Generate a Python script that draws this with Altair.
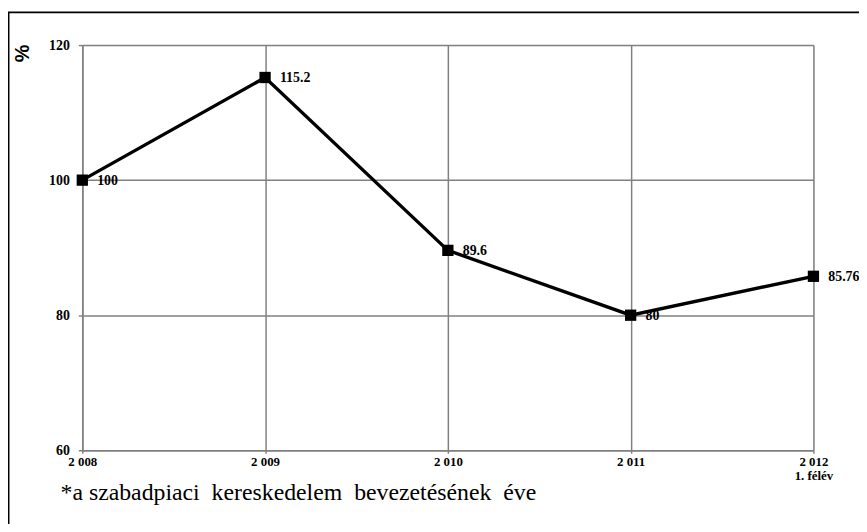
import altair as alt
import pandas as pd

years = ["2 008", "2 009", "2 010", "2 011", "2 012"]
values = [100, 115.2, 89.6, 80, 85.76]
value_labels = ["100", "115.2", "89.6", "80", "85.76"]
y_ticks = [60, 80, 100, 120]
footnote = "*a szabadpiaci\u00a0 kereskedelem\u00a0 bevezetésének\u00a0 éve"
y_title = "%"

df = pd.DataFrame({"year": years, "value": values, "label": value_labels})

serif = "Liberation Serif"

x_enc = alt.X(
    "year:O",
    sort=years,
    scale=alt.Scale(type="point", padding=0),
    axis=alt.Axis(
        title=None,
        labelAngle=0,
        labelFont=serif,
        labelFontWeight="bold",
        labelFontSize=13,
        labelColor="black",
        labelPadding=2,
        labelLineHeight=15,
        labelExpr="datum.value == '2 012' ? ['2 012', '1. félév'] : datum.value",
        tickSize=3,
        tickColor="#808080",
        tickWidth=1.5,
        domainColor="#808080",
        domainWidth=1.5,
        grid=True,
        gridColor="#808080",
        gridWidth=1.5,
    ),
)
y_enc = alt.Y(
    "value:Q",
    scale=alt.Scale(domain=[60, 120], nice=False, zero=False),
    axis=alt.Axis(
        values=y_ticks,
        title=y_title,
        titleFont="Liberation Sans",
        titleFontSize=20,
        titleFontWeight="bold",
        titleColor="black",
        titleAngle=270,
        titleX=-60,
        titleY=8,
        titleAlign="center",
        titleBaseline="middle",
        labelFont=serif,
        labelFontWeight="bold",
        labelFontSize=14,
        labelColor="black",
        labelPadding=9,
        tickSize=4,
        tickColor="#808080",
        tickWidth=1.5,
        domainColor="#808080",
        domainWidth=1.5,
        grid=True,
        gridColor="#808080",
        gridWidth=1.5,
    ),
)

base = alt.Chart(df)
line = base.mark_line(color="black", strokeWidth=3.4).encode(x=x_enc, y=y_enc)
points = base.mark_square(color="black", size=130, opacity=1).encode(x=x_enc, y=y_enc)
labels = base.mark_text(
    align="left", baseline="middle", dx=15, dy=1,
    font=serif, fontWeight="bold", fontSize=14, color="black"
).encode(x=x_enc, y=y_enc, text="label:N")

one = alt.Chart(pd.DataFrame({"k": [0]}))
frame_left = one.mark_rule(color="black", strokeWidth=2).encode(
    x=alt.value(-74.5), y=alt.value(-33), y2=alt.value(600)
)
frame_top = one.mark_rule(color="black", strokeWidth=2).encode(
    y=alt.value(-33), x=alt.value(-75), x2=alt.value(900)
)
note = one.mark_text(
    align="left", baseline="alphabetic", font=serif, fontSize=24, color="black"
).encode(x=alt.value(-22), y=alt.value(459), text=alt.value(footnote))

chart = (
    alt.layer(line, points, labels, frame_left, frame_top, note)
    .properties(
        width=738,
        height=409,
        autosize=alt.AutoSizeParams(type="none"),
        padding={"left": 75, "top": 35, "right": 46, "bottom": 72},
    )
    .configure_view(stroke="#808080", strokeWidth=1.5)
    .configure(background="white")
)

chart.save("out.html", embed_options={"renderer": "svg", "actions": False})
